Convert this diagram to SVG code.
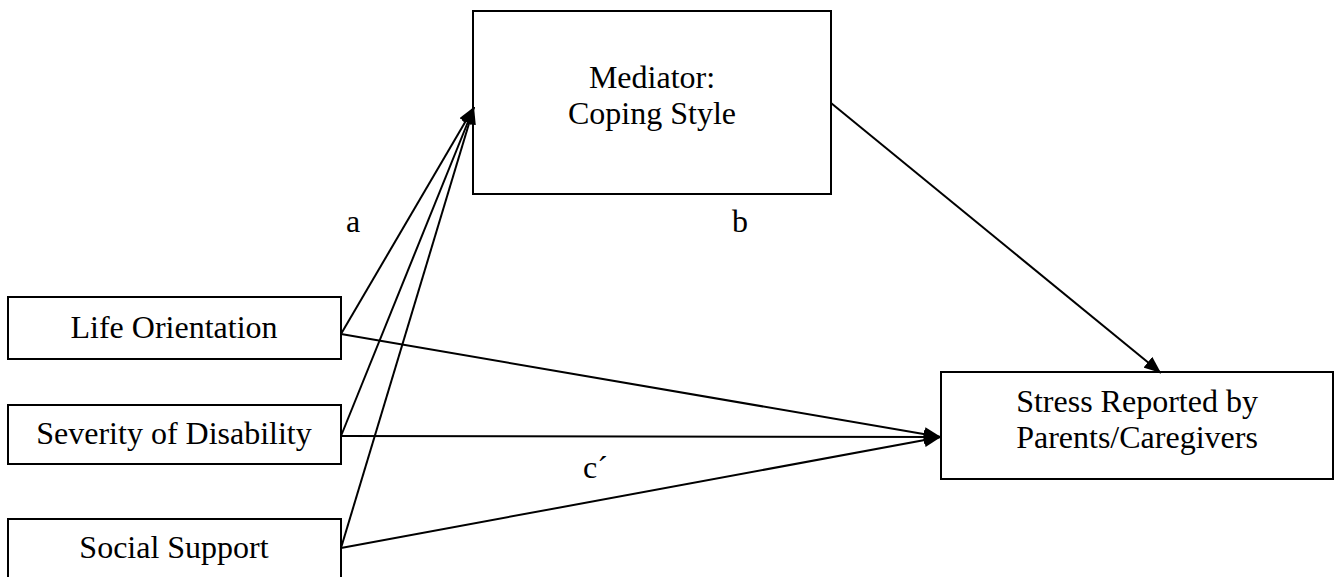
<svg xmlns="http://www.w3.org/2000/svg" width="1339" height="577" viewBox="0 0 1339 577">
<style>
.box{fill:#fff;stroke:#000;stroke-width:2}
.t{font-family:"Liberation Serif","Times New Roman",serif;font-size:32px;fill:#000}
.c{stroke:#000;stroke-width:2;fill:none}
</style>
<defs>
<marker id="ah" markerUnits="userSpaceOnUse" markerWidth="18" markerHeight="14" refX="17" refY="7" orient="auto">
<path d="M0,0 L17,7 L0,14 z" fill="#000"/>
</marker>
</defs>
<rect width="1339" height="577" fill="#fff"/>
<g id="mediator">
<rect class="box" x="473" y="11" width="358" height="183"/>
<text class="t" x="652" y="88" text-anchor="middle">Mediator:</text>
<text class="t" x="652" y="124" text-anchor="middle">Coping Style</text>
</g>
<g id="life">
<rect class="box" x="8" y="297" width="333" height="62"/>
<text class="t" x="174" y="338" text-anchor="middle">Life Orientation</text>
</g>
<g id="severity">
<rect class="box" x="8" y="405" width="333" height="59"/>
<text class="t" x="174" y="444" text-anchor="middle">Severity of Disability</text>
</g>
<g id="social">
<rect class="box" x="8" y="519" width="333" height="70"/>
<text class="t" x="174" y="558" text-anchor="middle">Social Support</text>
</g>
<g id="stress">
<rect class="box" x="941" y="372" width="392" height="107"/>
<text class="t" x="1137" y="412" text-anchor="middle">Stress Reported by</text>
<text class="t" x="1137" y="448" text-anchor="middle">Parents/Caregivers</text>
</g>
<g id="connectors">
<line class="c" x1="341" y1="334" x2="474" y2="107" marker-end="url(#ah)"/>
<line class="c" x1="341" y1="436" x2="474" y2="107" marker-end="url(#ah)"/>
<line class="c" x1="341" y1="548" x2="474" y2="107" marker-end="url(#ah)"/>
<line class="c" x1="341" y1="334" x2="941" y2="437" marker-end="url(#ah)"/>
<line class="c" x1="341" y1="436" x2="941" y2="437" marker-end="url(#ah)"/>
<line class="c" x1="341" y1="548" x2="941" y2="437" marker-end="url(#ah)"/>
<line class="c" x1="831" y1="103" x2="1161" y2="373" marker-end="url(#ah)"/>
</g>
<g id="labels">
<text class="t" x="353" y="232" text-anchor="middle">a</text>
<text class="t" x="740" y="232" text-anchor="middle">b</text>
<text class="t" x="583" y="478">c´</text>
</g>
</svg>
